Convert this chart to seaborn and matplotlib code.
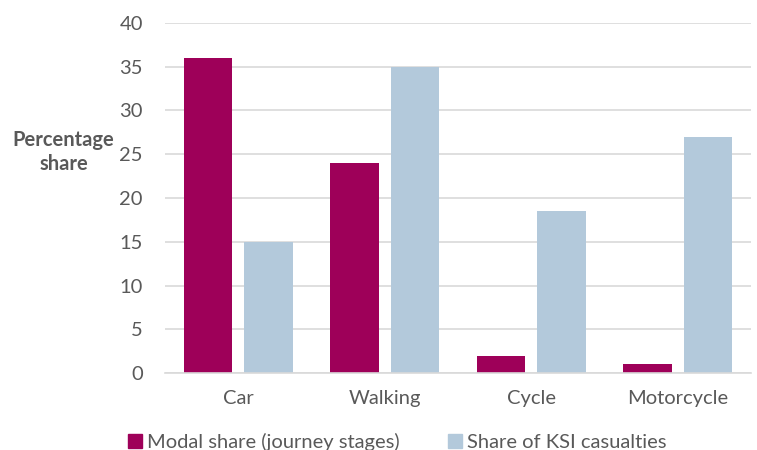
import pandas as pd
import seaborn as sns
import matplotlib.pyplot as plt

MODES = ["Car", "Walking", "Cycle", "Motorcycle"]
MODAL_SHARE = [36, 24, 2, 1]
KSI_SHARE = [15, 35, 18.5, 27]
SERIES = ["Modal share (journey stages)", "Share of KSI casualties"]
COLORS = ["#9E0059", "#B3C9DB"]
TEXT = "#595959"

sns.set_style("white")
plt.rcParams['font.family'] = ['Lato', 'DejaVu Sans']

df = pd.DataFrame({"mode": MODES * 2,
                   "share": MODAL_SHARE + KSI_SHARE,
                   "series": [SERIES[0]] * 4 + [SERIES[1]] * 4})

fig = plt.figure(figsize=(7.57, 4.5), dpi=100)
ax = fig.add_axes([0.218, 0.171, 0.774, 0.778])
sns.barplot(data=df, x="mode", y="share", hue="series", palette=COLORS,
            width=0.83, gap=0.2, saturation=1, linewidth=0, ax=ax, legend=False)

ax.set_ylim(0, 40)
ax.set_yticks(range(0, 41, 5))
ax.yaxis.grid(True, color="#D9D9D9", linewidth=1.2)
ax.set_axisbelow(True)
for s in ["top", "right", "left"]:
    ax.spines[s].set_visible(False)
ax.spines["bottom"].set_color("#D9D9D9")
ax.spines["bottom"].set_linewidth(1.2)
ax.tick_params(axis="both", length=0, colors=TEXT, labelsize=14.5)
ax.tick_params(axis="y", pad=16)
ax.tick_params(axis="x", pad=12)
ax.set_xlabel("")
ax.set_ylabel("")

fig.text(0.084, 0.662, "Percentage\nshare", ha="center", va="center",
         fontsize=14.5, fontweight="bold", color=TEXT, linespacing=1.3)

handles = [plt.Rectangle((0, 0), 1, 1, color=c) for c in COLORS]
fig.legend(handles, SERIES, loc="center", bbox_to_anchor=(0.525, 0.018), ncol=2,
           frameon=False, fontsize=14.5, labelcolor=TEXT, handlelength=0.7,
           handleheight=0.7, handletextpad=0.25, columnspacing=2.4)

plt.savefig("out.png", dpi=100)
